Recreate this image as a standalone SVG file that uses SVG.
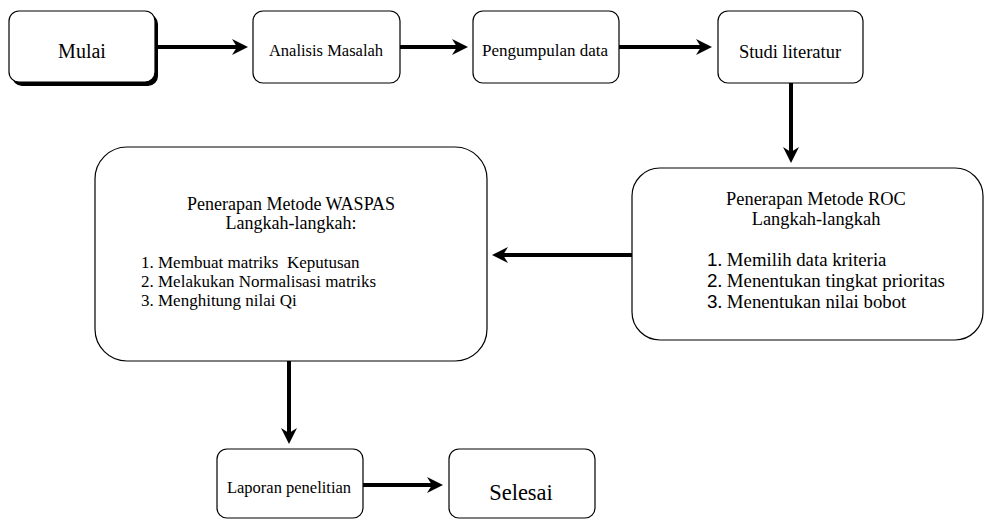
<svg xmlns="http://www.w3.org/2000/svg" width="985" height="520" viewBox="0 0 985 520">
<style>
.box{fill:#fff;stroke:#000;stroke-width:1.2}
.t{font-family:"Liberation Serif","Times New Roman",serif;fill:#000;text-anchor:middle}
.tl{font-family:"Liberation Serif","Times New Roman",serif;fill:#000}
.n{font-family:"Liberation Sans",Arial,sans-serif}
.c{stroke:#000;stroke-width:4;fill:none}
</style>
<defs>
<marker id="ah" markerUnits="userSpaceOnUse" markerWidth="18" markerHeight="18" refX="5" refY="8" orient="auto">
<path d="M0,0 L16,8 L0,16 L5,8 Z" fill="#000"/>
</marker>
</defs>
<rect width="985" height="520" fill="#fff"/>
<g id="connectors">
<line class="c" x1="156" y1="47" x2="237" y2="47" marker-end="url(#ah)"/>
<line class="c" x1="400" y1="47" x2="457" y2="47" marker-end="url(#ah)"/>
<line class="c" x1="619" y1="47" x2="701" y2="47" marker-end="url(#ah)"/>
<line class="c" x1="791" y1="83" x2="791" y2="152" marker-end="url(#ah)"/>
<line class="c" x1="632" y1="255" x2="503" y2="255" marker-end="url(#ah)"/>
<line class="c" x1="289" y1="361" x2="289" y2="433" marker-end="url(#ah)"/>
<line class="c" x1="363" y1="485" x2="432" y2="485" marker-end="url(#ah)"/>
</g>
<g id="mulai">
<rect x="12" y="14" width="146" height="72" rx="10" fill="#000"/>
<rect class="box" x="9" y="11" width="146" height="71" rx="10"/>
<text class="t" x="82" y="58" font-size="20">Mulai</text>
</g>
<g id="analisis">
<rect class="box" x="253" y="11" width="147" height="72" rx="10"/>
<text class="t" x="326" y="56" font-size="16.5">Analisis Masalah</text>
</g>
<g id="pengumpulan">
<rect class="box" x="473" y="11" width="146" height="72" rx="10"/>
<text class="t" x="545" y="56" font-size="17">Pengumpulan data</text>
</g>
<g id="studi">
<rect class="box" x="718" y="11" width="145" height="72" rx="10"/>
<text class="t" x="790" y="58" font-size="18.5">Studi literatur</text>
</g>
<g id="roc">
<rect class="box" x="632" y="168" width="351" height="172" rx="28"/>
<text class="t" x="816" y="205" font-size="18.4">Penerapan Metode ROC</text>
<text class="t" x="816" y="225" font-size="18.4">Langkah-langkah</text>
<text class="tl" x="707" y="266" font-size="18.8"><tspan class="n">1</tspan>. Memilih data kriteria</text>
<text class="tl" x="707" y="287" font-size="18.8"><tspan class="n">2</tspan>. Menentukan tingkat prioritas</text>
<text class="tl" x="707" y="308" font-size="18.8"><tspan class="n">3</tspan>. Menentukan nilai bobot</text>
</g>
<g id="waspas">
<rect class="box" x="95" y="147" width="392" height="214" rx="32"/>
<text class="t" x="291" y="210" font-size="18">Penerapan Metode WASPAS</text>
<text class="t" x="291" y="229" font-size="18">Langkah-langkah:</text>
<text class="tl" x="141" y="268" font-size="17" xml:space="preserve">1. Membuat matriks  Keputusan</text>
<text class="tl" x="141" y="287" font-size="17">2. Melakukan Normalisasi matriks</text>
<text class="tl" x="141" y="306" font-size="17">3. Menghitung nilai Qi</text>
</g>
<g id="laporan">
<rect class="box" x="217" y="449" width="146" height="69" rx="10"/>
<text class="t" x="289" y="493" font-size="16.5">Laporan penelitian</text>
</g>
<g id="selesai">
<rect class="box" x="449" y="449" width="146" height="69" rx="10"/>
<text class="t" x="521" y="500" font-size="22.5">Selesai</text>
</g>
</svg>
